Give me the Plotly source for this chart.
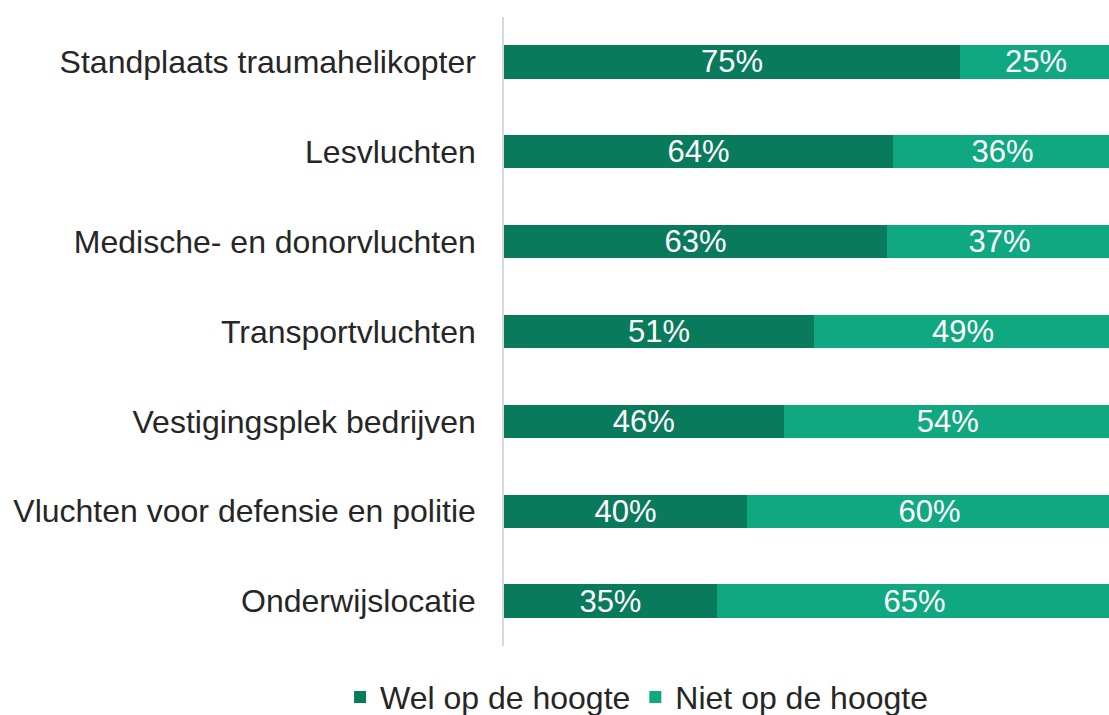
import plotly.graph_objects as go

categories = [
    "Standplaats traumahelikopter",
    "Lesvluchten",
    "Medische- en donorvluchten",
    "Transportvluchten",
    "Vestigingsplek bedrijven",
    "Vluchten voor defensie en politie",
    "Onderwijslocatie",
]
wel = [75, 64, 63, 51, 46, 40, 35]
niet = [25, 36, 37, 49, 54, 60, 65]
series_names = ["Wel op de hoogte", "Niet op de hoogte"]
colors = ["#0A7A5C", "#0FA880"]

FONT = "Liberation Sans, Arial, sans-serif"

fig = go.Figure()
for name, vals, col in zip(series_names, [wel, niet], colors):
    fig.add_trace(go.Bar(
        y=categories, x=vals, name=name, orientation="h",
        marker=dict(color=col, line=dict(width=0)),
        text=[f"{v}%" for v in vals], textposition="inside",
        insidetextanchor="middle",
        textfont=dict(color="white", size=31, family=FONT),
        hoverinfo="skip",
    ))

fig.update_layout(
    barmode="stack",
    bargap=0.63,
    width=1109, height=715,
    margin=dict(l=504, r=0, t=17, b=69, autoexpand=False),
    plot_bgcolor="white", paper_bgcolor="white",
    font=dict(family=FONT, size=32, color="#262626"),
    showlegend=True,
    legend=dict(
        orientation="h", xref="container", yref="container",
        x=0.574, xanchor="center", y=0.025, yanchor="middle",
        traceorder="normal",
        font=dict(size=32, color="#262626"),
        itemwidth=30, tracegroupgap=0,
    ),
    uniformtext=dict(mode="show", minsize=31),
)
fig.update_xaxes(range=[0, 99.5], showgrid=False, showticklabels=False,
                 zeroline=False, showline=False, fixedrange=True)
fig.update_yaxes(autorange="reversed", showgrid=False, showline=True,
                 linecolor="#D9D9D9", linewidth=1.5, ticks="", automargin=False,
                 ticklabelstandoff=20, tickfont=dict(size=32, color="#262626"))

fig.write_html(
    "out.html",
    config={"displayModeBar": False},
    post_script="document.body.style.margin='0px';document.body.style.overflow='hidden';",
)
